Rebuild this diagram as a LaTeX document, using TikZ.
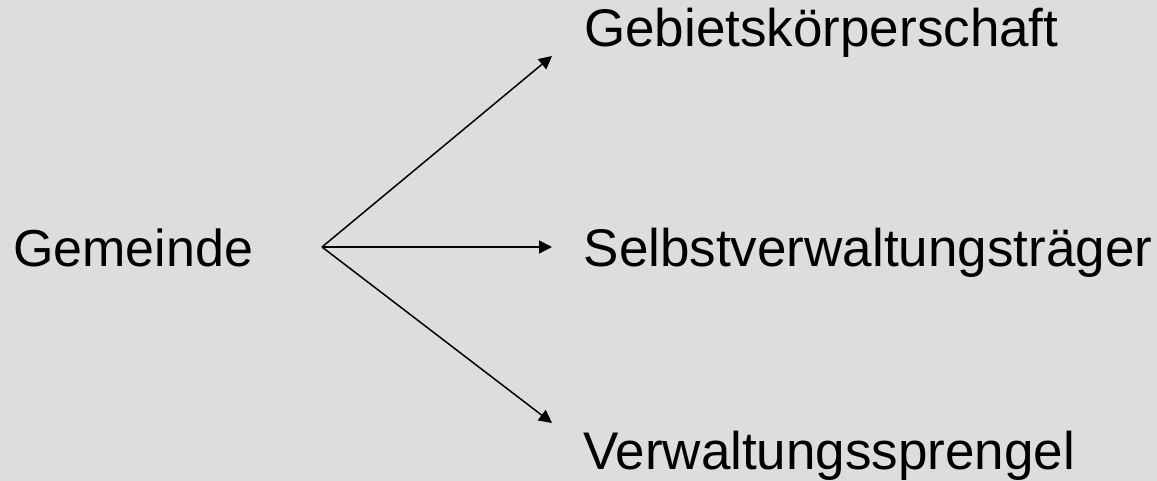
\documentclass[tikz,border=0pt]{standalone}
\usepackage{fontspec}
\setmainfont{Liberation Sans}
\usetikzlibrary{arrows.meta}
\definecolor{bg}{HTML}{DDDDDD}
\begin{document}
\begin{tikzpicture}[x=1pt,y=-1pt,
  lbl/.style={anchor=base west,inner sep=0pt,font=\fontsize{53}{60}\selectfont},
  conn/.style={line width=1.5pt,-{Triangle[length=13pt,width=13pt]}}]
\fill[bg] (0,0) rectangle (1157,481);
\useasboundingbox (0,0) rectangle (1157,481);
\node[lbl,font=\fontsize{52}{60}\selectfont] (gem) at (13,266) {Gemeinde};
\node[lbl] (geb) at (584,47) {Gebietskörperschaft};
\node[lbl] (sel) at (583.5,266) {Selbstverwaltungsträger};
\node[lbl] (ver) at (583,469.5) {Verwaltungssprengel};
\coordinate (hub) at (322,247);
\coordinate (tA) at (552,56);
\coordinate (tB) at (552,247);
\coordinate (tC) at (552,423);
\draw[conn] (hub) -- (tA);
\draw[conn] (hub) -- (tB);
\draw[conn] (hub) -- (tC);
\end{tikzpicture}
\end{document}
